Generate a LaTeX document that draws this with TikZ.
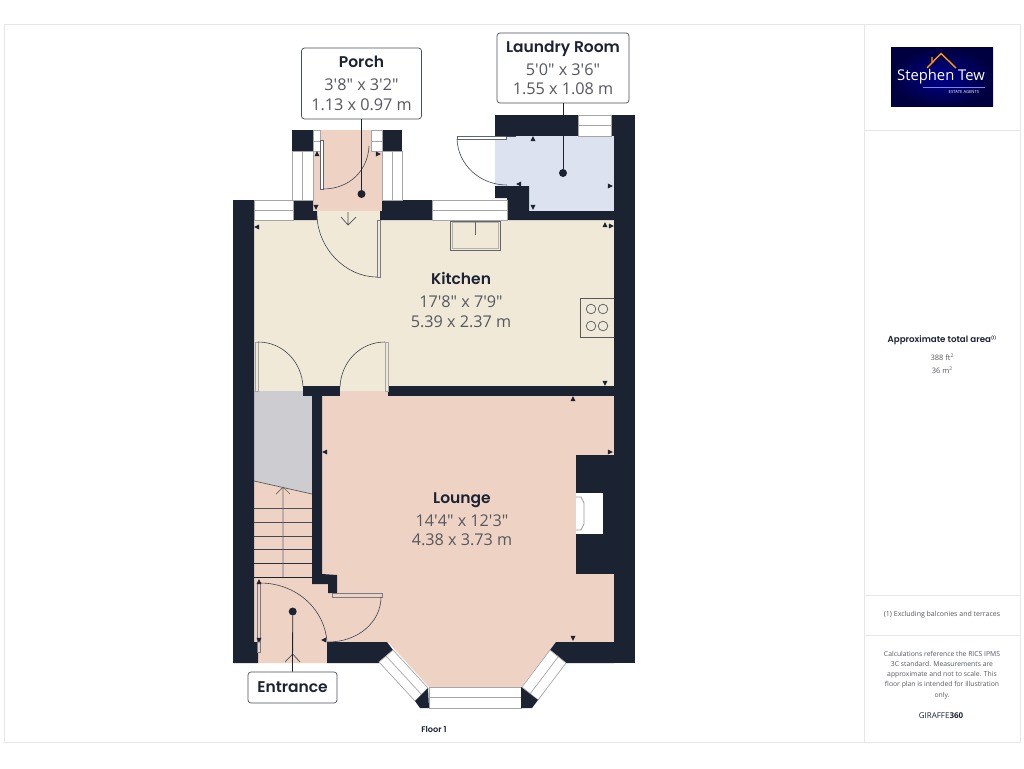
\documentclass[tikz,border=0pt]{standalone}
\usepackage{fontspec}
\setmainfont{Open Sans}[Ligatures=TeXOff]
\newfontfamily\titlefont{Poppins}[BoldFont={Poppins SemiBold}]
\definecolor{wallc}{HTML}{1B2333}
\definecolor{kitchenc}{HTML}{F1E9D8}
\definecolor{pinkc}{HTML}{EED3C4}
\definecolor{bluec}{HTML}{DCE2F0}
\definecolor{stairc}{HTML}{CDCDD1}
\definecolor{framec}{HTML}{E6E6E8}
\definecolor{dimc}{HTML}{55585F}
\tikzset{every picture/.style={x=1pt,y=-1pt},
  wall/.style={fill=wallc,draw=none},
  pane/.style={fill=white,draw=gray!70,line width=0.7pt},
  thin line/.style={draw=wallc!85,line width=0.6pt},
  tag/.style={draw=wallc!80,line width=0.7pt,fill=white,rounded corners=3pt,align=center,text=dimc,inner sep=0pt,font=\fontsize{16.2}{19.5}\selectfont},
  room/.style={align=center,text=dimc,font=\fontsize{16.2}{19.5}\selectfont},
  side/.style={align=center,text=dimc,font=\fontsize{7}{12.6}\selectfont},
  dot/.style={circle,fill=wallc,inner sep=0pt,minimum size=8pt}}
\newcommand{\roomname}[1]{{\titlefont\bfseries\fontsize{15.5}{19.5}\selectfont\textcolor{wallc}{#1}}}
\begin{document}
\begin{tikzpicture}
  \useasboundingbox (0,0) rectangle (1024,768);
  \fill[white] (0,0) rectangle (1024,768);
  % frame
  \draw[framec,line width=1pt] (4,25) rectangle (1020,742);
  \draw[framec,line width=1pt] (864,25) -- (864,742);
  \draw[framec,line width=1pt] (864,130) -- (1020,130);
  \draw[framec,line width=1pt] (864,595) -- (1020,595);
  \draw[framec,line width=1pt] (864,635) -- (1020,635);
  % rooms
  \fill[kitchenc] (254,220) rectangle (614,391);
  \fill[kitchenc] (317,211) rectangle (380,220);
  \fill[pinkc] (313,130) rectangle (382,211);
  \fill[bluec] (495,136) -- (614,136) -- (614,211) -- (529,211) -- (529,186) -- (495,186) -- cycle;
  \fill[stairc] (254,391) -- (312,391) -- (312,494) -- (254,481) -- cycle;
  \fill[pinkc] (254,481) -- (312,494) -- (312,584) -- (328,584) -- (328,593) -- (327,663) -- (258,663) -- (254,640) -- cycle;
  \fill[pinkc] (340,391) -- (388,391) -- (388,396) -- (614,396) -- (614,642) -- (556,642) -- (521,687) -- (429,687) -- (388,642) -- (327,642) -- (327,593) -- (337,593) -- (322,574) -- (322,396) -- (340,396) -- cycle;
  % walls
  \fill[wall] (233,200) -- (254,200) -- (254,642) -- (258,642) -- (258,663) -- (233,663) -- cycle;
  \fill[wall] (293,200) -- (313,200) -- (313,211) -- (317,211) -- (317,220) -- (293,220) -- cycle;
  \fill[wall] (382,200) -- (432,200) -- (432,220) -- (380,220) -- (380,211) -- (382,211) -- cycle;
  \fill[wall] (614,115) rectangle (635,663);
  \fill[wall] (495,115) rectangle (614,136);
  \fill[wall] (495,186) -- (529,186) -- (529,211) -- (614,211) -- (614,220) -- (507,220) -- (507,198) -- (495,198) -- cycle;
  \fill[wall] (303,386) rectangle (340,396);
  \fill[wall] (388,386) rectangle (614,396);
  \fill[wall] (312,396) -- (322,396) -- (322,574) -- (337,575) -- (337,593) -- (328,593) -- (328,584) -- (312,584) -- cycle;
  \fill[wall] (576,455) rectangle (614,574);
  \fill[wall] (556,642) -- (614,642) -- (614,663) -- (566,663) -- (550,650) -- cycle;
  \fill[wall] (327,642) -- (387,642) -- (393,650) -- (379,662) -- (379,663) -- (327,663) -- cycle;
  \fill[wall] (292,130) rectangle (313,151);
  \fill[wall] (382,130) rectangle (402,151);
  % windows
  \draw[pane] (254,200) rectangle (293,220) (254,210) -- (293,210);
  \draw[pane] (432,200) rectangle (507,220) (432,210) -- (507,210);
  \draw[pane] (578,115) rectangle (611,136) (578,125) -- (611,125);
  \draw[pane] (292,151) rectangle (313,200) (302,151) -- (302,200);
  \draw[pane] (382,151) rectangle (402,200) (392,151) -- (392,200);
  \draw[pane] (313,130) rectangle (320,151) (313,141) -- (320,141);
  \draw[pane] (371,130) rectangle (382,151) (371,141) -- (382,141);
  \draw[pane] (429,687) rectangle (521,708) (429,697) -- (521,697);
  \draw[pane] (393,650) -- (379,662) -- (415,701) -- (428,688) -- cycle (386,656) -- (422,695);
  \draw[pane] (550,650) -- (566,663) -- (538,700) -- (522,687) -- cycle (558,657) -- (530,694);
  \fill[wall] (428,688) -- (415,701) -- (420,708) -- (429,708) -- cycle;
  \fill[wall] (521,687) -- (538,700) -- (532,708) -- (521,708) -- cycle;
  % fireplace
  \fill[white] (576,493) rectangle (603,534);
  \draw[gray!80,line width=0.7pt] (576,497) -- (581,497) -- (584,503) -- (584,524) -- (581,530) -- (576,530);
  % doors
  \draw[pane,draw=wallc!70] (320,140) rectangle (323,189);
  \draw[thin line] (323,189) .. controls (350,189) and (368,170) .. (369,146);
  \draw[pane,fill=kitchenc,draw=wallc!60] (377,220) rectangle (380,277);
  \draw[thin line] (317,216) .. controls (318,248) and (345,277) .. (377,277);
  \draw[pane,draw=wallc!70] (457,136) rectangle (506,139);
  \draw[thin line] (506,136) -- (516,136);
  \draw[thin line] (457,139) .. controls (458,165) and (480,185) .. (507,185);
  \draw[pane,fill=kitchenc,draw=gray!70] (255,342) rectangle (258,391);
  \draw[thin line] (258,342) .. controls (283,342) and (302,362) .. (303,387);
  \draw[pane,fill=kitchenc,draw=gray!70] (385,342) rectangle (388,391);
  \draw[thin line] (385,342) .. controls (360,342) and (341,362) .. (340,387);
  \draw[pane,fill=pinkc,draw=wallc!60] (332,593) rectangle (382,597);
  \draw[thin line] (381,597) .. controls (381,622) and (358,642) .. (328,642);
  \draw[pane,fill=pinkc,draw=wallc!60] (257,583) rectangle (260,652);
  \draw[thin line] (260,583) .. controls (297,583) and (325,610) .. (327,642);
  % stairs
  \draw[gray!70!black,line width=0.7pt] (254,481) -- (312,494);
  \foreach \y/\c in {508/50,522/55,536/60,549/70,563/85,577/100}
    \draw[wallc!\c!gray,line width=0.8pt] (254,\y) -- (312,\y);
  \draw[gray!80!black,line width=0.7pt] (283,577) -- (283,488) (276,494) -- (283,487) -- (290,494);
  % kitchen fittings
  \draw[gray!80!black,line width=0.8pt] (450,221) rectangle (500,250);
  \draw[gray!60,line width=0.8pt] (452,222) rectangle (498,248);
  \draw[gray!80!black,line width=0.7pt] (475,221) -- (475,235);
  \draw[gray!70!black,line width=0.8pt] (580,298) -- (580,337) -- (614,337) (580,298) -- (614,298);
  \foreach \x/\y in {591/309,603/309,591/326,603/326}
    \draw[wallc!75,line width=0.7pt] (\x,\y) circle (4.8);
  % wall marks
  \foreach \x/\y/\a in {533/139/90,610/186/0,533/207/270,519/184/180,605/225/90,611/226/0,257/227/180,316/207/270,317/154/90,378/154/0,573/399/90,605/383/270,610/452/0,573/638/270,325/452/180,259/582/90,259/640/270,324/640/180}
    \fill[wallc,rotate around={\a:(\x,\y)}] (\x+2.8,\y) -- (\x-2.2,\y+2.5) -- (\x-2.2,\y-2.5) -- cycle;
  % porch arrow
  \draw[wallc!80,line width=0.7pt] (348,212) -- (348,225) (341,217) -- (348,225) -- (356,217);
  \draw[wallc!80,line width=0.7pt] (285,662) -- (292.7,654) -- (300,662);
  % tags
  \node[tag,minimum width=120pt,minimum height=71pt] (porchtag) at (361.5,83.5) {\roomname{Porch}\\[3.5pt]3'8" x 3'2"\\1.13 x 0.97 m};
  \node[tag,minimum width=132pt,minimum height=70pt] (laundrytag) at (563,68) {\roomname{Laundry Room}\\[3.5pt]5'0" x 3'6"\\1.55 x 1.08 m};
  \node[tag,minimum width=89pt,minimum height=31pt] (entrancetag) at (292.5,687.5) {\roomname{Entrance}};
  \node[dot] (porchdot) at (361.5,194) {};
  \node[dot] (laundrydot) at (563,173) {};
  \node[dot] (entrancedot) at (292.7,611.5) {};
  \draw[wallc,line width=0.8pt] (porchtag) -- (porchdot);
  \draw[wallc,line width=0.8pt] (laundrytag) -- (laundrydot);
  \draw[wallc,line width=0.8pt] (entrancetag) -- (entrancedot);
  % room labels
  \node[room] (kitchen) at (461,300) {\roomname{Kitchen}\\[3.5pt]17'8" x 7'9"\\5.39 x 2.37 m};
  \node[room] (lounge) at (462,519) {\roomname{Lounge}\\[3.5pt]14'4" x 12'3"\\4.38 x 3.73 m};
  \node[font=\titlefont\bfseries\fontsize{8.2}{10}\selectfont,text=wallc] (floor) at (434,729) {Floor 1};
  % side panel
  \shade[inner color=blue!55!black,outer color=blue!25!black] (891,48) rectangle (993,106);
  \draw[orange!80!yellow,line width=1.4pt] (927,68) -- (941,53.5) -- (956,68) (932,57) -- (932,62);
  \node[text=white,font=\fontsize{14.8}{18}\selectfont] (logoname) at (941,77) {Stephen Tew};
  \node[text=white,font=\fontsize{4.2}{5}\selectfont] (logosub) at (964,91.5) {ESTATE AGENTS};
  \draw[blue!50!white,line width=0.4pt] (923,87) -- (985,87);
  \node[font=\titlefont\bfseries\fontsize{8.7}{10}\selectfont,text=wallc] (areahead) at (942,340) {Approximate total area\raisebox{3pt}{\fontsize{4}{5}\selectfont(1)}};
  \node[side,font=\fontsize{7.5}{13}\selectfont] (areaval) at (942,364) {388 ft\raisebox{3pt}{\fontsize{5}{6}\selectfont 2}\\36 m\raisebox{3pt}{\fontsize{5}{6}\selectfont 2}};
  \node[side] (excl) at (942,615) {(1) Excluding balconies and terraces};
  \node[side,font=\fontsize{6.8}{10.2}\selectfont] (calc) at (942,675) {Calculations reference the RICS IPMS\\3C standard. Measurements are\\approximate and not to scale. This\\floor plan is intended for illustration\\only.};
  \node[text=wallc,font=\fontsize{8}{9}\selectfont] (brand) at (941,716) {GIRAFFE\textbf{360}};
\end{tikzpicture}
\end{document}
